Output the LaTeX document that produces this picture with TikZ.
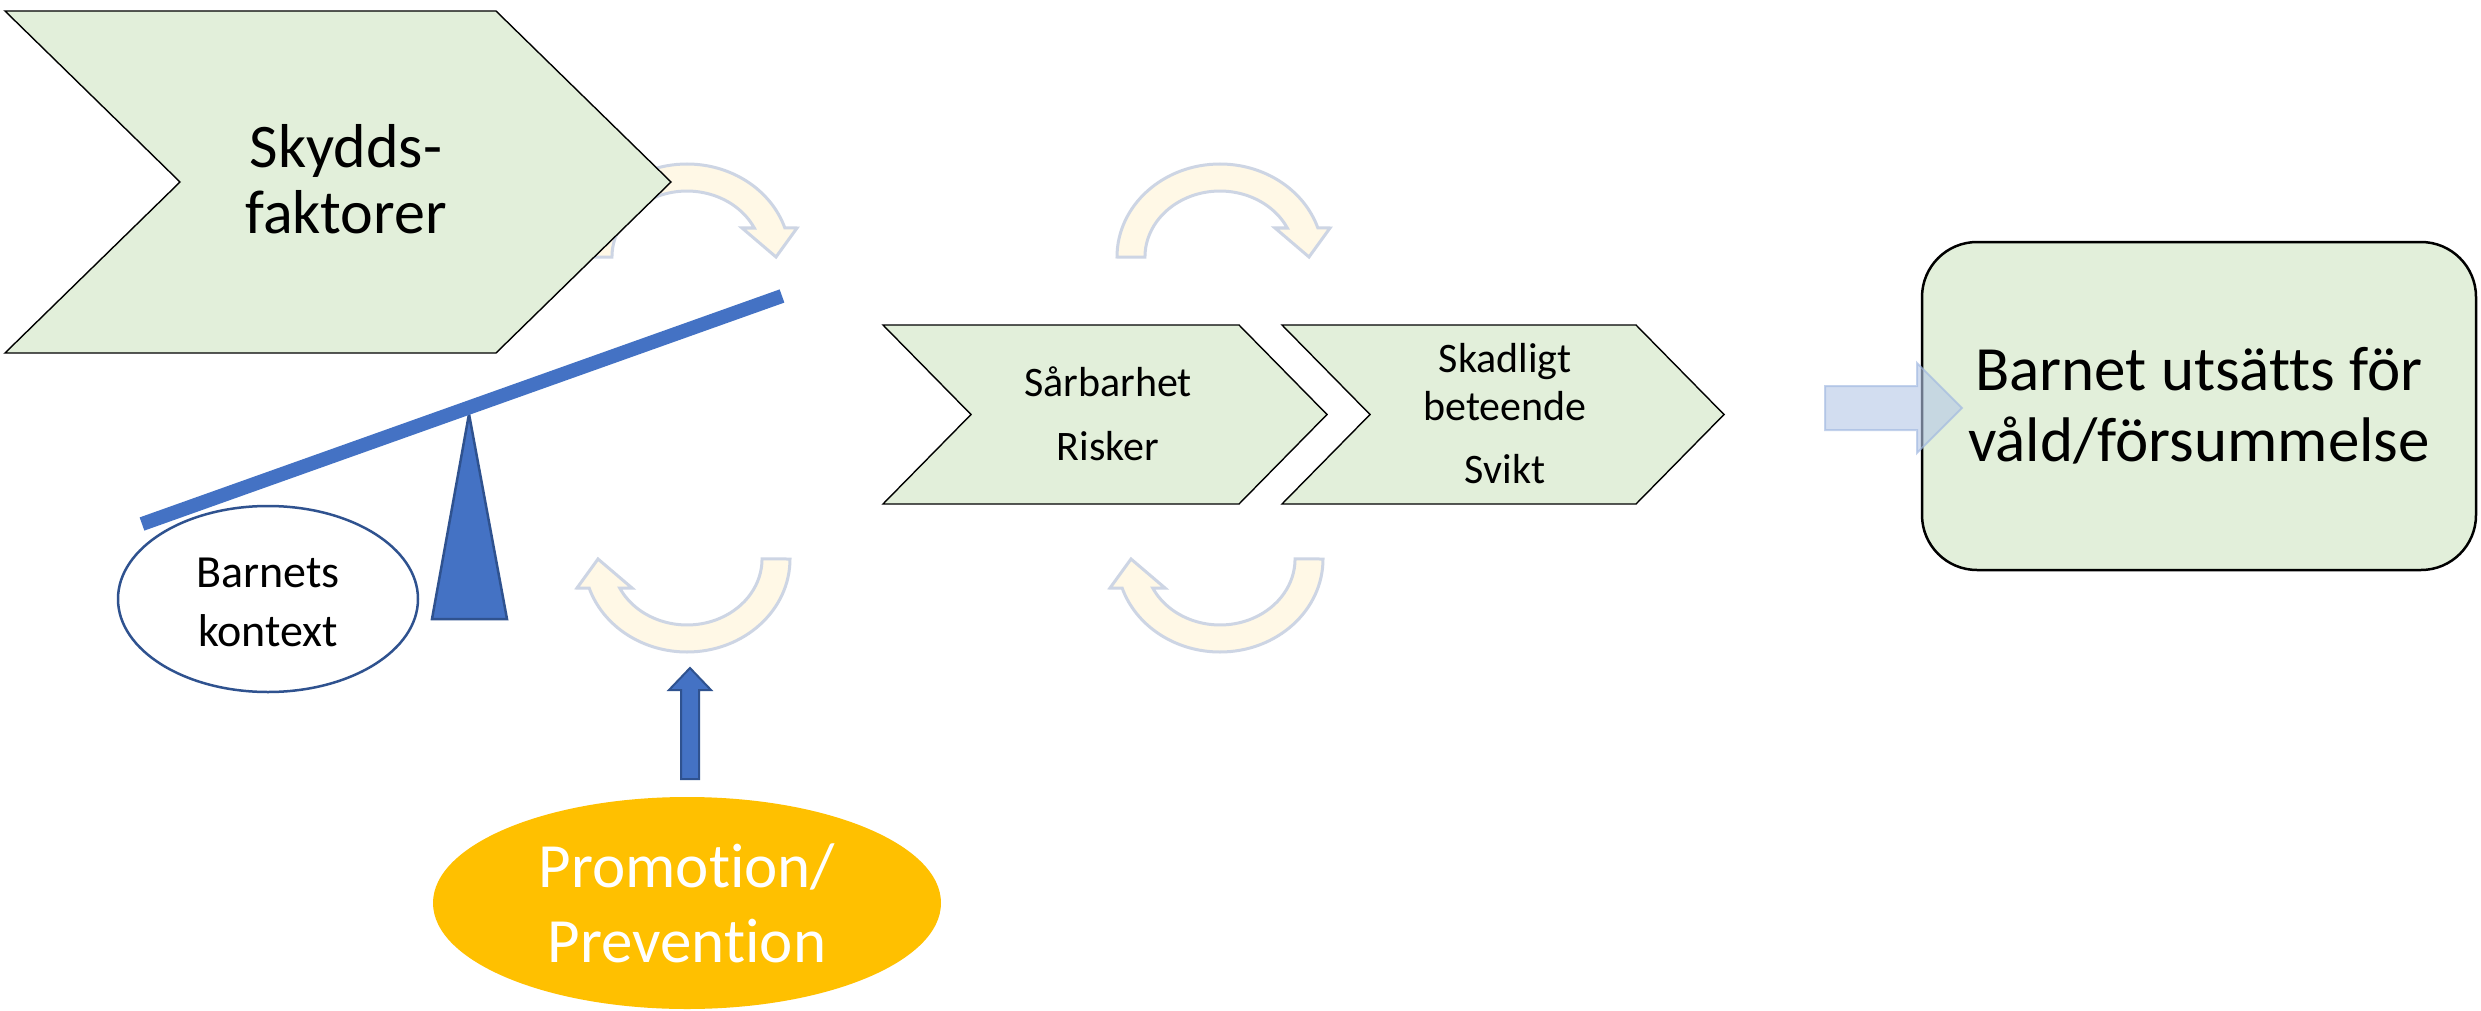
\documentclass[tikz,border=0pt]{standalone}
\usepackage{fontspec}
\setmainfont{Carlito}[Ligatures={NoCommon,NoRare}]
\usetikzlibrary{shapes.geometric}
\definecolor{chevgreen}{HTML}{E2EFDA}
\definecolor{arrfill}{HTML}{FFF8E6}
\definecolor{arredge}{HTML}{CDD5E4}
\definecolor{blueA}{HTML}{4472C4}
\definecolor{blueB}{HTML}{2F528F}
\definecolor{lightblue}{HTML}{B4C7E7}
\definecolor{promo}{HTML}{FFC000}
\newcommand\myCurvArrow[3]{%
  \begin{scope}[shift={(#1,#2)}, rotate=#3]
    \draw[curvarr] (-103,0) arc[start angle=180, end angle=18.2, x radius=103pt, y radius=93pt]
      -- (110,-29) -- (89,0) -- (55,-29) -- (67.3,-29)
      arc[start angle=26.1, end angle=180, x radius=75pt, y radius=66pt] -- cycle;
  \end{scope}}
\begin{document}
\begin{tikzpicture}[x=1pt,y=-1pt,
  chev/.style={fill=chevgreen, draw=black, line width=1.4pt, line join=miter},
  curvarr/.style={fill=arrfill, draw=arredge, line width=3pt, line join=miter},
  blueshape/.style={fill=blueA, draw=blueB, line width=2.5pt, line join=miter},
  txt/.style={align=center, inner sep=0pt, text=black}]
\useasboundingbox (0,0) rectangle (2481,1011);
\fill[white] (0,0) rectangle (2481,1011);

% curved arrows
\myCurvArrow{687}{257}{0}
\myCurvArrow{1220}{257}{0}
\myCurvArrow{687}{559}{180}
\myCurvArrow{1220}{559}{180}

% big chevron
\draw[chev] (5,11) -- (496,11) -- (671,182) -- (496,353) -- (5,353) -- (180,182) -- cycle;
\node[txt, font=\fontsize{62}{66}\selectfont] (skydd) at (346,179) {Skydds-\\faktorer};

% small chevrons
\draw[chev] (883,325) -- (1239,325) -- (1327,414.5) -- (1239,504) -- (883,504) -- (971,414.5) -- cycle;
\draw[chev] (1282,325) -- (1636,325) -- (1724,414.5) -- (1636,504) -- (1282,504) -- (1370,414.5) -- cycle;
\node[txt, font=\fontsize{42}{48}\selectfont] (sar) at (1108,413.5) {Sårbarhet\\[16pt]Risker};
\node[txt, font=\fontsize{42}{48}\selectfont] (skad) at (1505,414) {Skadligt\\beteende\\[15pt]Svikt};

% seesaw
\draw[blueshape] (469,414) -- (507,619) -- (432,619) -- cycle;
\draw[blueA, line width=14pt] (142,524) -- (782,296);

% context ellipse
\node[ellipse, draw=blueB, fill=white, line width=2.5pt, minimum width=300pt, minimum height=186pt,
  inner sep=0pt] (ctx) at (268,599) {};
\node[txt, font=\fontsize{46}{59}\selectfont] (ctxt) at (268,602) {Barnets\\kontext};

% promotion
\node[ellipse, fill=promo, minimum width=508pt, minimum height=212pt, inner sep=0pt,
  align=center, text=white, font=\fontsize{63}{75}\selectfont] (prom) at (687,903) {Promotion/\\Prevention};
\draw[blueshape, line width=2pt] (681,779) -- (681,690) -- (669,690) -- (690,668) -- (711,690) -- (699,690) -- (699,779) -- cycle;

% outcome box
\node[draw=black, fill=chevgreen, line width=2.5pt, rounded corners=55pt, minimum width=554pt,
  minimum height=328pt, inner sep=0pt, align=center, font=\fontsize{63}{71}\selectfont] (out) at (2199,406)
  {Barnet utsätts för\\våld/försummelse};
\draw[fill=lightblue, fill opacity=0.6, draw=lightblue!80!blueA, draw opacity=0.6, line width=2pt]
  (1825,386) -- (1917,386) -- (1917,363) -- (1962,408) -- (1917,453) -- (1917,430) -- (1825,430) -- cycle;
\end{tikzpicture}
\end{document}
